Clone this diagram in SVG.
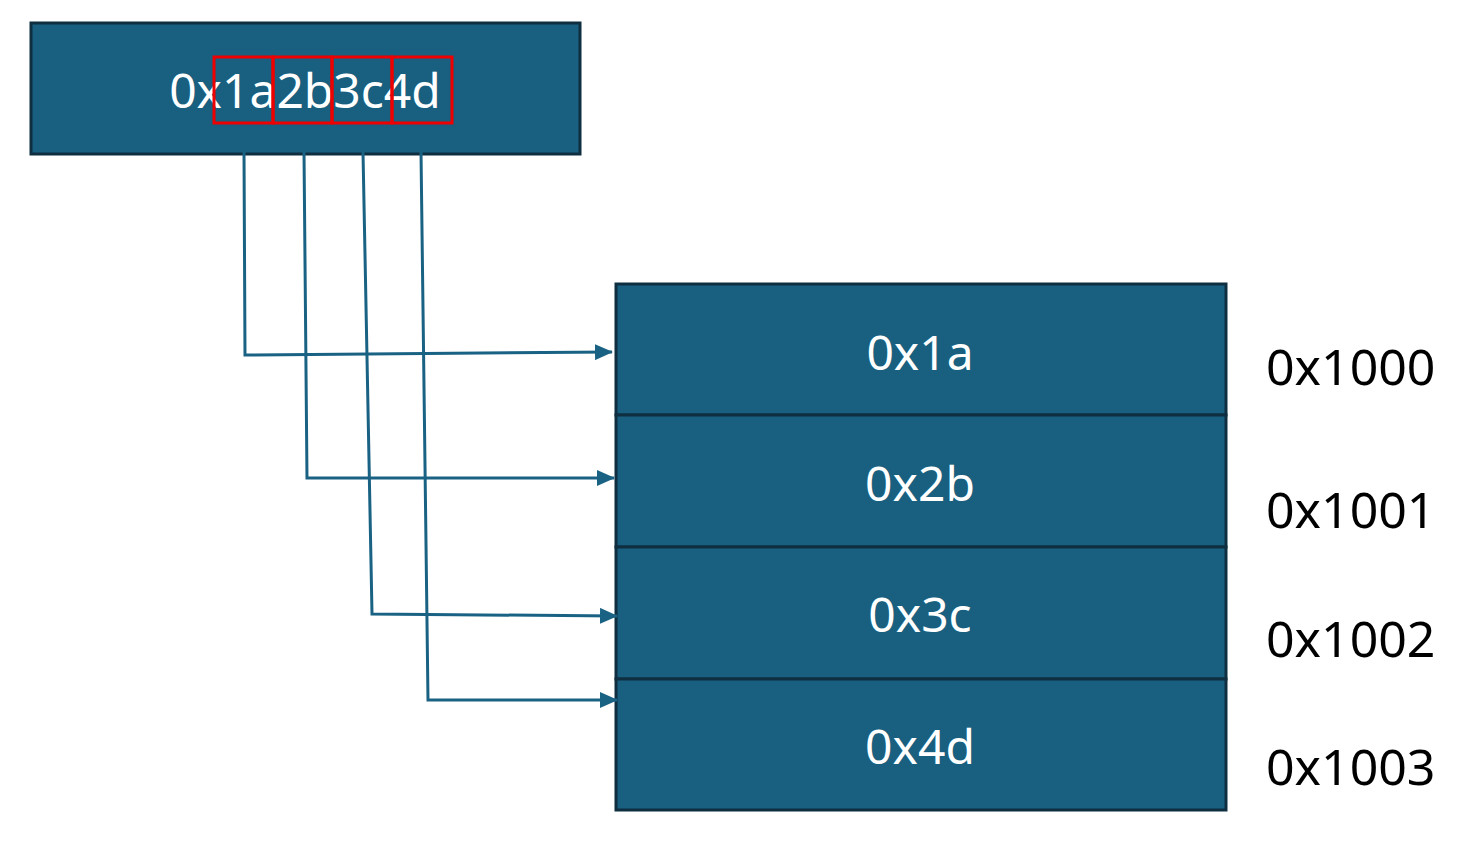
<svg xmlns="http://www.w3.org/2000/svg" width="1469" height="861" viewBox="0 0 1469 861">
<style>
.box{fill:#185f80;stroke:#0f2f40;stroke-width:3}
.t{font-family:"Noto Sans","Open Sans",sans-serif;fill:#fff;font-size:48px;text-anchor:middle}
.a{font-family:"Noto Sans","Open Sans",sans-serif;fill:#000;font-size:50px}
.r{fill:none;stroke:#e00;stroke-width:3}
.c{fill:none;stroke:#1a6283;stroke-width:3}
</style>
<defs><marker id="ah" markerWidth="8" markerHeight="8" refX="7" refY="4" orient="auto" markerUnits="userSpaceOnUse" viewBox="0 0 8 8"><path d="M0,0 L8,4 L0,8z" fill="#1a6283"/></marker>
<marker id="ah2" markerWidth="18" markerHeight="16" refX="17" refY="8" orient="auto" markerUnits="userSpaceOnUse"><path d="M0,0 L18,8 L0,16z" fill="#1a6283"/></marker></defs>
<g id="source"><rect class="box" x="31" y="23" width="549" height="131"/>
<text class="t" x="305" y="108">0x1a2b3c4d</text>
<rect class="r" x="214" y="57" width="59" height="66"/><rect class="r" x="273" y="57" width="59" height="66"/><rect class="r" x="332" y="57" width="60" height="66"/><rect class="r" x="392" y="57" width="60" height="66"/></g>
<g id="m0"><rect class="box" x="616" y="284" width="610" height="131"/><text class="t" x="920" y="370">0x1a</text></g>
<g id="m1"><rect class="box" x="616" y="415" width="610" height="132"/><text class="t" x="920" y="501">0x2b</text></g>
<g id="m2"><rect class="box" x="616" y="547" width="610" height="132"/><text class="t" x="920" y="632">0x3c</text></g>
<g id="m3"><rect class="box" x="616" y="679" width="610" height="131"/><text class="t" x="920" y="764">0x4d</text></g>
<g id="addr"><text class="a" x="1266" y="385">0x1000</text><text class="a" x="1266" y="528">0x1001</text><text class="a" x="1266" y="657">0x1002</text><text class="a" x="1266" y="785">0x1003</text></g>
<g id="connectors">
<polyline class="c" points="244,152 245,355 612,352" marker-end="url(#ah2)"/>
<polyline class="c" points="304,152 307,478 614,478" marker-end="url(#ah2)"/>
<polyline class="c" points="363,152 372,614 617,616" marker-end="url(#ah2)"/>
<polyline class="c" points="421,152 428,700 617,700" marker-end="url(#ah2)"/>
</g>
</svg>
